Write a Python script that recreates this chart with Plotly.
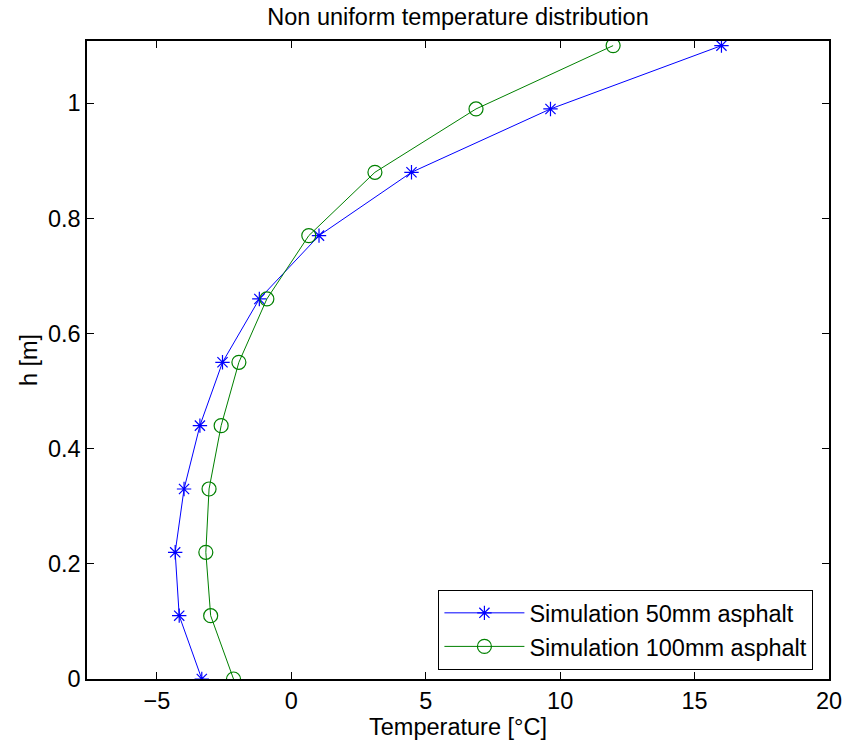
import plotly.graph_objects as go

h = [0, 0.11, 0.22, 0.33, 0.44, 0.55, 0.66, 0.77, 0.88, 0.99, 1.1]
t50 = [-3.33, -4.17, -4.32, -3.99, -3.40, -2.56, -1.19, 1.03, 4.47, 9.64, 16.0]
t100 = [-2.15, -3.00, -3.18, -3.06, -2.61, -1.95, -0.91, 0.65, 3.11, 6.87, 11.97]

x_ticks = [-5, 0, 5, 10, 15, 20]
y_ticks = [0, 0.2, 0.4, 0.6, 0.8, 1]

font = "Liberation Sans, Arial, sans-serif"
fs = 23.5

fig = go.Figure()
fig.add_trace(go.Scatter(
    x=t50, y=h, mode="lines+markers", name="Simulation 50mm asphalt",
    line=dict(color="rgb(0,0,255)", width=1),
    marker=dict(symbol="asterisk-open", size=12, color="rgb(0,0,255)",
                line=dict(color="rgb(0,0,255)", width=1.2)),
))
fig.add_trace(go.Scatter(
    x=t100, y=h, mode="lines+markers", name="Simulation 100mm asphalt",
    line=dict(color="rgb(0,128,0)", width=1),
    marker=dict(symbol="circle-open", size=14, color="rgb(0,128,0)",
                line=dict(color="rgb(0,128,0)", width=1.2)),
))

axis_common = dict(
    showline=True, linecolor="black", linewidth=1.5, mirror="ticks",
    ticks="inside", ticklen=7, tickcolor="black", tickwidth=1,
    showgrid=False, zeroline=False, automargin=False,
    tickfont=dict(family=font, size=fs, color="black"),
)

fig.update_layout(
    width=847, height=746,
    margin=dict(l=87, r=18, t=41, b=67),
    paper_bgcolor="white", plot_bgcolor="white",
    font=dict(family=font, color="black"),
    title=dict(text="Non uniform temperature distribution", x=0.5, xanchor="center",
               xref="paper",
               y=0.977, yanchor="middle", font=dict(family=font, size=fs, color="black")),
    xaxis=dict(range=[-7.6, 20], tickvals=x_ticks,
               title=dict(text="Temperature [°C]", font=dict(family=font, size=fs), standoff=0),
               **axis_common),
    yaxis=dict(range=[0, 1.108], tickvals=y_ticks,
               title=dict(text="h [m]", font=dict(family=font, size=fs), standoff=4),
               **axis_common),
    legend=dict(x=0.979, y=0.014, xanchor="right", yanchor="bottom",
                bgcolor="white", bordercolor="black", borderwidth=1,
                font=dict(family=font, size=fs, color="black"),
                itemwidth=80, tracegroupgap=0),
    showlegend=True,
)

fig.write_html("out.html")
